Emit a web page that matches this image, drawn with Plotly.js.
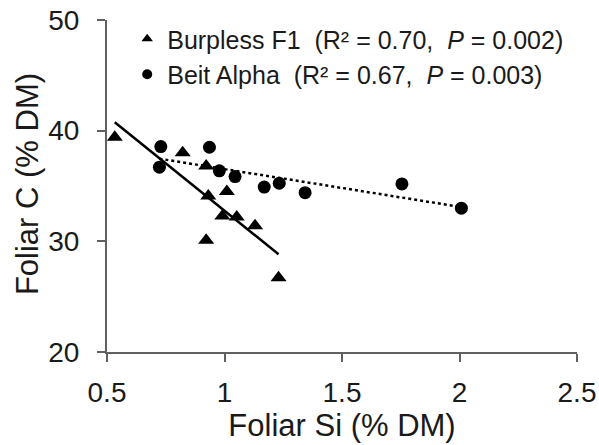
<!DOCTYPE html>
<html>
<head>
<meta charset="utf-8">
<script src="https://cdn.plot.ly/plotly-3.0.1.min.js"></script>
<style>
html,body{margin:0;padding:0;background:#fff;}
#chart{width:599px;height:445px;}
</style>
</head>
<body>
<div id="chart"></div>
<script>
// Burpless F1 (triangles)
var burplessSi = [0.533, 0.822, 0.922, 1.010, 0.931, 0.991, 1.052, 1.130, 0.922, 1.230];
var burplessC  = [39.4, 38.0, 36.8, 34.5, 34.1, 32.3, 32.2, 31.4, 30.1, 26.7];
// Beit Alpha (circles)
var beitSi = [0.729, 0.723, 0.936, 0.978, 1.045, 1.169, 1.233, 1.343, 1.755, 2.008];
var beitC  = [38.56, 36.7, 38.5, 36.37, 35.85, 34.9, 35.25, 34.4, 35.19, 33.0];

var legendLabels = [
  "Burpless F1\u00a0 (R\u00b2 = 0.70,\u00a0\u00a0<i>P</i>\u00a0= 0.002)",
  "Beit Alpha\u00a0 (R\u00b2 = 0.67,\u00a0\u00a0<i>P</i>\u00a0= 0.003)"
];
var xTicks = [0.5, 1, 1.5, 2, 2.5];
var xTickText = ["0.5", "1", "1.5", "2", "2.5"];
var yTicks = [20, 30, 40, 50];
var xTitle = "Foliar Si (% DM)";
var yTitle = "Foliar C (% DM)";

function linfit(xs, ys) {
  var n = xs.length, mx = 0, my = 0;
  for (var i = 0; i < n; i++) { mx += xs[i]; my += ys[i]; }
  mx /= n; my /= n;
  var sxy = 0, sxx = 0;
  for (var j = 0; j < n; j++) { sxy += (xs[j]-mx)*(ys[j]-my); sxx += (xs[j]-mx)*(xs[j]-mx); }
  var b = sxy / sxx, a = my - b * mx;
  var x0 = Math.min.apply(null, xs), x1 = Math.max.apply(null, xs);
  return {x: [x0, x1], y: [a + b * x0, a + b * x1]};
}
var fitB = linfit(burplessSi, burplessC);
var fitA = linfit(beitSi, beitC);

var FONT = "Liberation Sans, Arial, sans-serif";
var TXT = "#1a1a1a";

var traces = [
  {x: fitB.x, y: fitB.y, mode: "lines", line: {color: "#000", width: 2.5}, showlegend: false, hoverinfo: "skip"},
  {x: fitA.x, y: fitA.y, mode: "lines", line: {color: "#000", width: 2.5, dash: "dot"}, showlegend: false, hoverinfo: "skip"},
  {x: burplessSi, y: burplessC, mode: "markers", marker: {symbol: "triangle-up", size: 14, color: "#000"}, showlegend: false},
  {x: beitSi, y: beitC, mode: "markers", marker: {symbol: "circle", size: 13, color: "#000"}, showlegend: false},
  {x: [null], y: [null], mode: "markers", name: legendLabels[0], marker: {symbol: "triangle-up", size: 10, color: "#000"}},
  {x: [null], y: [null], mode: "markers", name: legendLabels[1], marker: {symbol: "circle", size: 10, color: "#000"}}
];

var layout = {
  width: 599, height: 445,
  margin: {l: 107, r: 22, t: 20, b: 93},
  paper_bgcolor: "#fff", plot_bgcolor: "#fff",
  font: {family: FONT, color: TXT},
  showlegend: true,
  legend: {x: 0.043, y: 1.012, xanchor: "left", yanchor: "top", bgcolor: "rgba(0,0,0,0)",
           font: {family: FONT, size: 25, color: TXT}, tracegroupgap: 0, itemwidth: 30},
  xaxis: {
    range: [0.5, 2.5], tickvals: xTicks, ticktext: xTickText,
    showgrid: false, zeroline: false, showline: true, linecolor: "#606060", linewidth: 2,
    ticks: "outside", ticklen: 8, tickwidth: 2, tickcolor: "#606060",
    tickfont: {family: FONT, size: 28, color: TXT}, ticklabelstandoff: 6,
    title: {text: xTitle, font: {family: FONT, size: 31, color: TXT}, standoff: 1}
  },
  yaxis: {
    range: [20, 50], tickvals: yTicks,
    showgrid: false, zeroline: false, showline: true, linecolor: "#606060", linewidth: 2,
    ticks: "outside", ticklen: 8, tickwidth: 2, tickcolor: "#606060",
    tickfont: {family: FONT, size: 28, color: TXT}, ticklabelstandoff: 12
  },
  annotations: [{
    text: yTitle, xref: "paper", yref: "paper", x: -0.17, y: 0.506,
    xanchor: "center", yanchor: "middle", textangle: -90, showarrow: false,
    font: {family: FONT, size: 31, color: TXT}
  }]
};

Plotly.newPlot("chart", traces, layout, {displayModeBar: false, staticPlot: true});
</script>
</body>
</html>
